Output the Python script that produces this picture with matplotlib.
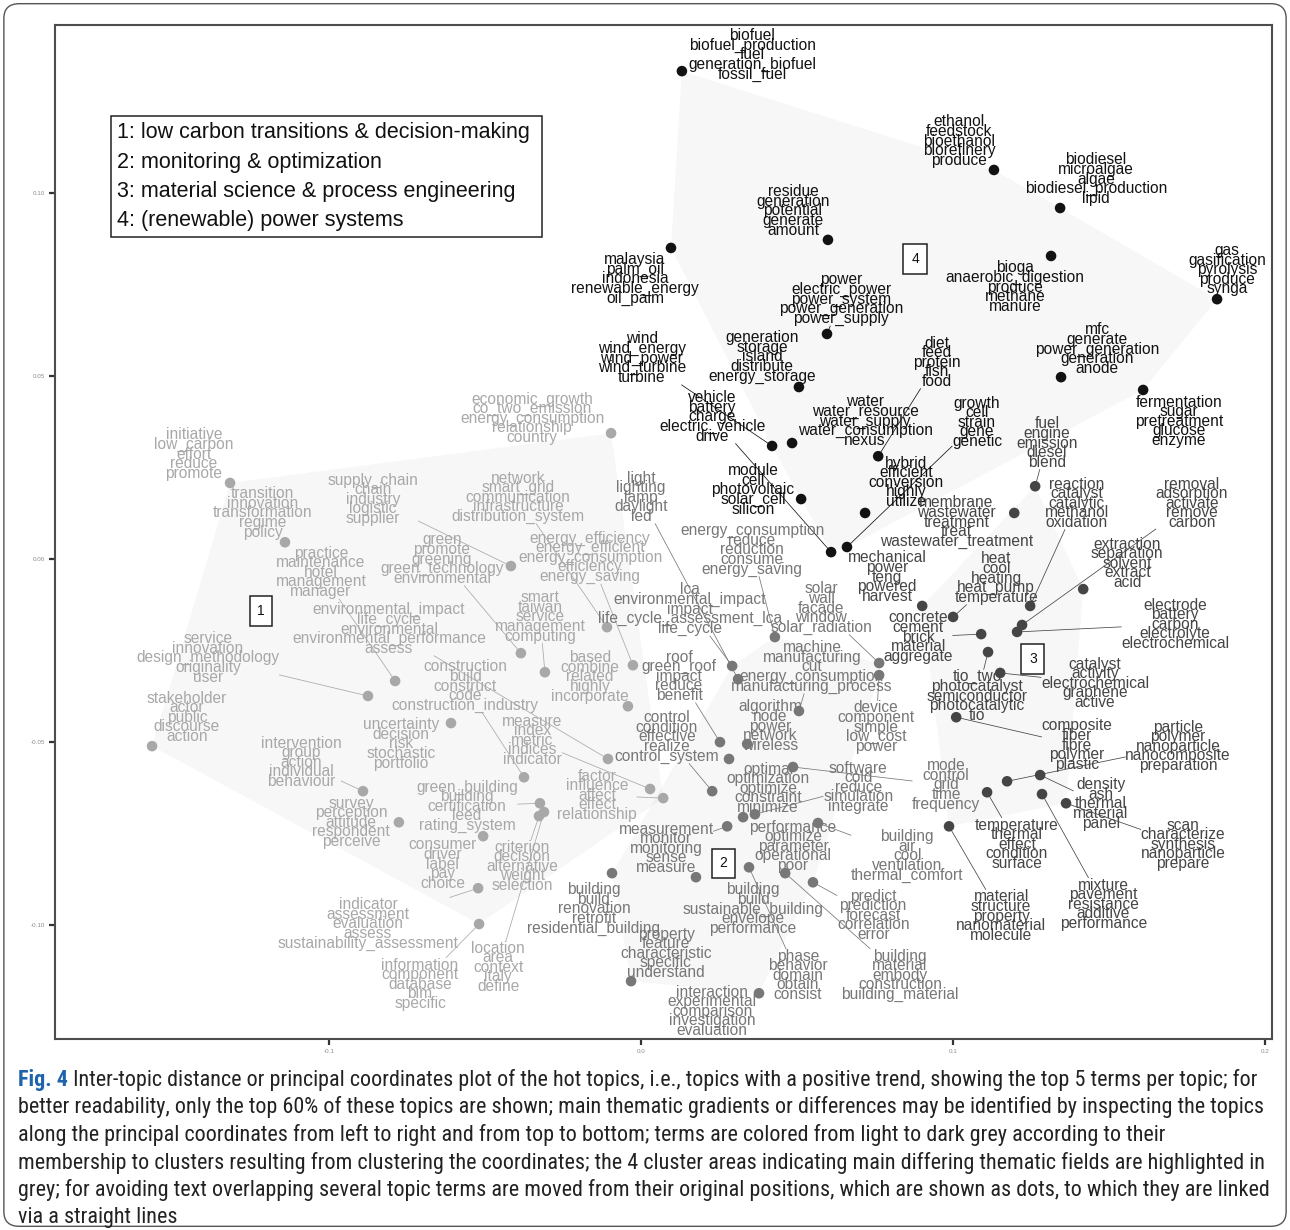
import numpy as np
import matplotlib
matplotlib.use("Agg")
import matplotlib.pyplot as plt
from matplotlib import font_manager
from matplotlib.patches import Polygon, Rectangle, FancyBboxPatch

plt.rcParams['font.family'] = ['Liberation Sans', 'DejaVu Sans']

# top 5 terms of each hot topic
topic_terms = [
    ["biofuel", "biofuel_production", "fuel", "generation_biofuel", "fossil_fuel"],
    ["ethanol", "feedstock", "bioethanol", "biorefinery", "produce"],
    ["biodiesel", "microalgae", "algae", "biodiesel_production", "lipid"],
    ["residue", "generation", "potential", "generate", "amount"],
    ["malaysia", "palm_oil", "indonesia", "renewable_energy", "oil_palm"],
    ["bioga", "anaerobic_digestion", "produce", "methane", "manure"],
    ["gas", "gasification", "pyrolysis", "produce", "synga"],
    ["power", "electric_power", "power_system", "power_generation", "power_supply"],
    ["wind", "wind_energy", "wind_power", "wind_turbine", "turbine"],
    ["vehicle", "battery", "charge", "electric_vehicle", "drive"],
    ["generation", "storage", "island", "distribute", "energy_storage"],
    ["water", "water_resource", "water_supply", "water_consumption", "nexus"],
    ["diet", "feed", "protein", "fish", "food"],
    ["hybrid", "efficient", "conversion", "highly", "utilize"],
    ["growth", "cell", "strain", "gene", "genetic"],
    ["module", "cell", "photovoltaic", "solar_cell", "silicon"],
    ["mfc", "generate", "power_generation", "generation", "anode"],
    ["fermentation", "sugar", "pretreatment", "glucose", "enzyme"],
    ["mechanical", "power", "teng", "powered", "harvest"],
    ["fuel", "engine", "emission", "diesel", "blend"],
    ["membrane", "wastewater", "treatment", "treat", "wastewater_treatment"],
    ["reaction", "catalyst", "catalytic", "methanol", "oxidation"],
    ["removal", "adsorption", "activate", "remove", "carbon"],
    ["extraction", "separation", "solvent", "extract", "acid"],
    ["heat", "cool", "heating", "heat_pump", "temperature"],
    ["concrete", "cement", "brick", "material", "aggregate"],
    ["electrode", "battery", "carbon", "electrolyte", "electrochemical"],
    ["tio_two", "photocatalyst", "semiconductor", "photocatalytic", "tio"],
    ["catalyst", "activity", "electrochemical", "graphene", "active"],
    ["composite", "fiber", "fibre", "polymer", "plastic"],
    ["particle", "polymer", "nanoparticle", "nanocomposite", "preparation"],
    ["density", "ash", "thermal", "material", "panel"],
    ["scan", "characterize", "synthesis", "nanoparticle", "prepare"],
    ["temperature", "thermal", "effect", "condition", "surface"],
    ["mixture", "pavement", "resistance", "additive", "performance"],
    ["material", "structure", "property", "nanomaterial", "molecule"],
    ["energy_consumption", "reduce", "reduction", "consume", "energy_saving"],
    ["lca", "environmental_impact", "impact", "life_cycle_assessment_lca", "life_cycle"],
    ["light", "lighting", "lamp", "daylight", "led"],
    ["solar", "wall", "facade", "window", "solar_radiation"],
    ["machine", "manufacturing", "cut", "energy_consumption", "manufacturing_process"],
    ["device", "component", "simple", "low_cost", "power"],
    ["roof", "green_roof", "impact", "reduce", "benefit"],
    ["algorithm", "node", "power", "network", "wireless"],
    ["control", "condition", "effective", "realize", "control_system"],
    ["performance", "optimize", "parameter", "operational", "poor"],
    ["optimal", "optimization", "optimize", "constraint", "minimize"],
    ["software", "cold", "reduce", "simulation", "integrate"],
    ["mode", "control", "grid", "time", "frequency"],
    ["measurement", "monitor", "monitoring", "sense", "measure"],
    ["building", "air", "cool", "ventilation", "thermal_comfort"],
    ["predict", "prediction", "forecast", "correlation", "error"],
    ["building", "build", "sustainable_building", "envelope", "performance"],
    ["building", "build", "renovation", "retrofit", "residential_building"],
    ["property", "feature", "characteristic", "specific", "understand"],
    ["phase", "behavior", "domain", "obtain", "consist"],
    ["building", "material", "embody", "construction", "building_material"],
    ["interaction", "experimental", "comparison", "investigation", "evaluation"],
    ["initiative", "low_carbon", "effort", "reduce", "promote"],
    ["transition", "innovation", "transformation", "regime", "policy"],
    ["supply_chain", "chain", "industry", "logistic", "supplier"],
    ["network", "smart_grid", "communication", "infrastructure", "distribution_system"],
    ["practice", "maintenance", "hotel", "management", "manager"],
    ["green", "promote", "greening", "green_technology", "environmental"],
    ["energy_efficiency", "energy_efficient", "energy_consumption", "efficiency", "energy_saving"],
    ["environmental_impact", "life_cycle", "environmental", "environmental_performance", "assess"],
    ["smart", "taiwan", "service", "management", "computing"],
    ["service", "innovation", "design_methodology", "originality", "user"],
    ["construction", "build", "construct", "code", "construction_industry"],
    ["based", "combine", "related", "highly", "incorporate"],
    ["stakeholder", "actor", "public", "discourse", "action"],
    ["uncertainty", "decision", "risk", "stochastic", "portfolio"],
    ["measure", "index", "metric", "indices", "indicator"],
    ["intervention", "group", "action", "individual", "behaviour"],
    ["green_building", "building", "certification", "leed", "rating_system"],
    ["factor", "influence", "affect", "effect", "relationship"],
    ["survey", "perception", "attitude", "respondent", "perceive"],
    ["consumer", "driver", "label", "pay", "choice"],
    ["criterion", "decision", "alternative", "weight", "selection"],
    ["indicator", "assessment", "evaluation", "assess", "sustainability_assessment"],
    ["location", "area", "context", "italy", "define"],
    ["information", "component", "database", "bim", "specific"],
    ["economic_growth", "co_two_emission", "energy_consumption", "relationship", "country"],
]

# cluster membership of each topic
topic_cluster = [4] * 18 + [3] * 18 + [2] * 22 + [1] * 25

# principal coordinates of the topics (shown as dots)
pc1 = [0.0131, 0.1131, 0.1343, 0.0599, 0.0096, 0.1314, 0.1846, 0.0596, 0.0420,
       0.0609, 0.0506, 0.0484, 0.0760, 0.0718, 0.0660, 0.0513, 0.1346, 0.1609,
       0.0901, 0.1263, 0.1196, 0.1247, 0.1221, 0.1417, 0.1000, 0.1090, 0.1205,
       0.1112, 0.1151, 0.1010, 0.1173, 0.1279, 0.1362, 0.1109, 0.1285, 0.0987,
       0.0429, 0.0292, 0.0311, 0.0763, 0.0506, 0.0763, 0.0253, 0.0340, 0.0228,
       0.0282, 0.0327, 0.0365, 0.0487, 0.0276, 0.0567, 0.0551, 0.0176, -0.0093,
       -0.0032, 0.0346, 0.0462, 0.0378,
       -0.1317, -0.1141, -0.0417, -0.0109, -0.0788, -0.0385, -0.0026, -0.0106,
       -0.0308, -0.0875, -0.0375, -0.0042, -0.1567, -0.0609, 0.0029, -0.0891,
       -0.0324, 0.0071, -0.0776, -0.0506, -0.0327, -0.0522, -0.0311, -0.0519,
       -0.0096]
pc2 = [0.1333, 0.1063, 0.0959, 0.0872, 0.0850, 0.0828, 0.0710, 0.0615, 0.0309,
       0.0019, 0.0470, 0.0317, 0.0281, 0.0126, 0.0033, 0.0164, 0.0497, 0.0462,
       -0.0128, 0.0199, 0.0126, -0.0128, -0.0180, -0.0082, -0.0158, -0.0205, -0.0199,
       -0.0254, -0.0311, -0.0432, -0.0607, -0.0590, -0.0667, -0.0637, -0.0642, -0.0730,
       -0.0213, -0.0292, -0.0328, -0.0284, -0.0415, -0.0317, -0.0500, -0.0505, -0.0634,
       -0.0546, -0.0705, -0.0697, -0.0568, -0.0730, -0.0721, -0.0883, -0.0869, -0.0858,
       -0.1153, -0.0842, -0.0858, -0.1186,
       0.0208, 0.0046, -0.0019, -0.0186, -0.0333, -0.0257, -0.0290, -0.0546,
       -0.0309, -0.0374, -0.0596, -0.0402, -0.0511, -0.0448, -0.0628, -0.0634,
       -0.0667, -0.0653, -0.0719, -0.0757, -0.0702, -0.0899, -0.0691, -0.0997,
       0.0344]

# positions of the term labels after moving them apart
label_pc1 = [0.0356, 0.1019, 0.1458, 0.0487, -0.0019, 0.1199, 0.1878, 0.0641, 0.0003,
             0.0228, 0.0388, 0.0718, 0.0949, 0.0849, 0.1077, 0.0359, 0.1462, 0.1724,
             0.0788, 0.1301, 0.1010, 0.1397, 0.1766, 0.1558, 0.1138, 0.0888, 0.1712,
             0.1077, 0.1455, 0.1397, 0.1721, 0.1474, 0.1737, 0.1205, 0.1481, 0.1154,
             0.0356, 0.0157, 0.0000, 0.0577, 0.0548, 0.0753, 0.0122, 0.0413, 0.0083,
             0.0487, 0.0407, 0.0696, 0.0978, 0.0080, 0.0853, 0.0744, 0.0359, -0.0151,
             0.0080, 0.0503, 0.0830, 0.0228,
             -0.1433, -0.1212, -0.0859, -0.0394, -0.1026, -0.0638, -0.0163, -0.0808,
             -0.0324, -0.1388, -0.0564, -0.0163, -0.1455, -0.0769, -0.0349, -0.1090,
             -0.0558, -0.0141, -0.0929, -0.0635, -0.0381, -0.0875, -0.0458, -0.0708,
             -0.0349]
label_pc2 = [0.1377, 0.1142, 0.1038, 0.0951, 0.0765, 0.0743, 0.0790, 0.0710, 0.0549,
             0.0388, 0.0552, 0.0377, 0.0538, 0.0210, 0.0374, 0.0189, 0.0574, 0.0377,
             -0.0049, 0.0317, 0.0101, 0.0153, 0.0153, -0.0011, -0.0052, -0.0213, -0.0178,
             -0.0374, -0.0339, -0.0508, -0.0511, -0.0669, -0.0779, -0.0779, -0.0943, -0.0975,
             0.0025, -0.0137, 0.0169, -0.0134, -0.0295, -0.0459, -0.0320, -0.0456, -0.0486,
             -0.0784, -0.0626, -0.0623, -0.0617, -0.0790, -0.0811, -0.0973, -0.0956, -0.0956,
             -0.1077, -0.1137, -0.1137, -0.1235,
             0.0287, 0.0126, 0.0164, 0.0169, -0.0036, 0.0000, 0.0005, -0.0191,
             -0.0158, -0.0270, -0.0347, -0.0322, -0.0432, -0.0505, -0.0495, -0.0555,
             -0.0675, -0.0645, -0.0719, -0.0833, -0.0839, -0.0997, -0.1115, -0.1161,
             0.0385]

# 1 where the moved label is joined to its dot by a segment
linked = [0, 0, 0, 0, 0, 0, 0, 1, 1, 1, 0, 0, 1, 0, 1, 0, 0, 0,
          0, 1, 0, 1, 1, 0, 1, 1, 1, 1, 1, 1, 1, 1, 1, 1, 1, 1,
          1, 1, 1, 1, 1, 1, 1, 0, 1, 0, 0, 1, 1, 1, 1, 1, 0, 0, 0, 1, 1, 0,
          0, 0, 1, 1, 1, 1, 1, 1, 1, 1, 1, 0, 0, 0, 1, 1, 1, 1, 0, 0, 1, 1, 1, 1, 0]

cluster_names = ["low carbon transitions & decision-making",
                 "monitoring & optimization",
                 "material science & process engineering",
                 "(renewable) power systems"]
cluster_greys = ["#a8a8a8", "#777777", "#454545", "#121212"]
cluster_tag_pc1 = [-0.1218, 0.0263, 0.1256, 0.0878]
cluster_tag_pc2 = [-0.0142, -0.0831, -0.0273, 0.0820]

x_ticks = [-0.1, 0.0, 0.1, 0.2]
x_tick_labels = ["-0.1", "0.0", "0.1", "0.2"]
y_ticks = [-0.10, -0.05, 0.00, 0.05, 0.10]
y_tick_labels = ["-0.10", "-0.05", "0.00", "0.05", "0.10"]

caption_head = "Fig. 4"
caption_lines = [
    " Inter-topic distance or principal coordinates plot of the hot topics, i.e., topics with a positive trend, showing the top 5 terms per topic; for",
    "better readability, only the top 60% of these topics are shown; main thematic gradients or differences may be identified by inspecting the topics",
    "along the principal coordinates from left to right and from top to bottom; terms are colored from light to dark grey according to their",
    "membership to clusters resulting from clustering the coordinates; the 4 cluster areas indicating main differing thematic fields are highlighted in",
    "grey; for avoiding text overlapping several topic terms are moved from their original positions, which are shown as dots, to which they are linked",
    "via a straight lines",
]


def convex_hull(points):
    pts = sorted(set(points))
    if len(pts) < 3:
        return pts

    def cross(o, a, b):
        return (a[0] - o[0]) * (b[1] - o[1]) - (a[1] - o[1]) * (b[0] - o[0])

    lower, upper = [], []
    for p in pts:
        while len(lower) >= 2 and cross(lower[-2], lower[-1], p) <= 0:
            lower.pop()
        lower.append(p)
    for p in reversed(pts):
        while len(upper) >= 2 and cross(upper[-2], upper[-1], p) <= 0:
            upper.pop()
        upper.append(p)
    return lower[:-1] + upper[:-1]


W, H = 1290, 1230
fig = plt.figure(figsize=(W / 100, H / 100), dpi=100)
ax = fig.add_axes([55 / W, 1 - 1039 / H, 1217 / W, 1014 / H])
ax.set_xlim(-0.1878, 0.2022)
ax.set_ylim(-0.1311, 0.1459)

n = len(topic_terms)
colors = [cluster_greys[c - 1] for c in topic_cluster]

# shaded cluster areas
for k in range(1, 5):
    pts = [(pc1[i], pc2[i]) for i in range(n) if topic_cluster[i] == k]
    ax.add_patch(Polygon(convex_hull(pts), closed=True, facecolor="black",
                         alpha=0.032, edgecolor="none", zorder=0))

ax.scatter(pc1, pc2, s=58, c=colors, linewidths=0, zorder=3)

texts = []
for i in range(n):
    t = ax.text(label_pc1[i], label_pc2[i], "\n".join(topic_terms[i]),
                ha="center", va="center", multialignment="center",
                fontsize=11.2, linespacing=0.545, color=colors[i], zorder=4)
    texts.append(t)

# segments from the dots to the edge of their label box
fig.canvas.draw()
renderer = fig.canvas.get_renderer()
inv = ax.transData.inverted()
for i in range(n):
    if not linked[i]:
        continue
    bb = texts[i].get_window_extent(renderer)
    px, py = ax.transData.transform((pc1[i], pc2[i]))
    cx, cy = (bb.x0 + bb.x1) / 2, (bb.y0 + bb.y1) / 2
    dx, dy = px - cx, py - cy
    hw, hh = bb.width / 2, bb.height / 2
    if abs(dx) <= hw and abs(dy) <= hh:
        continue
    f = min(hw / abs(dx) if dx else np.inf, hh / abs(dy) if dy else np.inf)
    ex, ey = inv.transform((cx + f * dx, cy + f * dy))
    ax.plot([pc1[i], ex], [pc2[i], ey], color=colors[i], lw=0.55, zorder=2)

# cluster numbers
for k in range(4):
    ax.text(cluster_tag_pc1[k], cluster_tag_pc2[k], str(k + 1), fontsize=10,
            ha="center", va="center", color="#111111", zorder=5,
            bbox=dict(boxstyle="square,pad=0.55", fc="white", ec="#222222", lw=1.1))

# legend box
ax.add_patch(Rectangle((0.046, 0.791), 0.354, 0.119, transform=ax.transAxes,
                       facecolor="white", edgecolor="#222222", lw=1.1, zorder=6))
for k, name in enumerate(cluster_names):
    ax.text(0.051, 0.8935 - 0.0289 * k, f"{k + 1}: {name}", transform=ax.transAxes,
            fontsize=15.5, ha="left", va="center", color="#111111", zorder=7)

ax.set_xticks(x_ticks)
ax.set_xticklabels(x_tick_labels)
ax.set_yticks(y_ticks)
ax.set_yticklabels(y_tick_labels)
ax.tick_params(length=4, width=1.6, color="#333333", labelsize=4.5,
               labelcolor="#8c8c8c", pad=3)
for s in ax.spines.values():
    s.set_color("#4d4d4d")
    s.set_linewidth(1.5)

# caption
installed = {f.name for f in font_manager.fontManager.ttflist}
narrow = next((f for f in ["Liberation Sans Narrow", "Roboto Condensed", "Open Sans Condensed"]
               if f in installed), None)
cap_family = [narrow, "DejaVu Sans"] if narrow else ["DejaVu Sans"]
cap_size = 15.95 if narrow else 12.5
cap_x = 18 / W
head = fig.text(cap_x, 1 - 1086 / H, caption_head, fontsize=cap_size, family=cap_family,
                fontweight="bold", color="#1f63ab", va="baseline", ha="left",
                fontstretch="condensed")
for j, line in enumerate(caption_lines):
    yb = 1 - (1086 + 27.5 * j) / H
    if j == 0:
        ax.annotate(line, xy=(1, 0), xycoords=head, va="bottom", ha="left",
                    fontsize=cap_size, family=cap_family, color="#222222",
                    fontstretch="condensed", annotation_clip=False)
    else:
        fig.text(cap_x, yb, line, fontsize=cap_size, family=cap_family, color="#222222",
                 va="baseline", ha="left", fontstretch="condensed")

# frame round the whole figure
fig.patches.append(FancyBboxPatch((0.003, 0.003), 0.994, 0.994,
                                  boxstyle="round,pad=0,rounding_size=0.012",
                                  transform=fig.transFigure, fill=False,
                                  ec="#555555", lw=1.0))

fig.savefig("out.png", dpi=100)
